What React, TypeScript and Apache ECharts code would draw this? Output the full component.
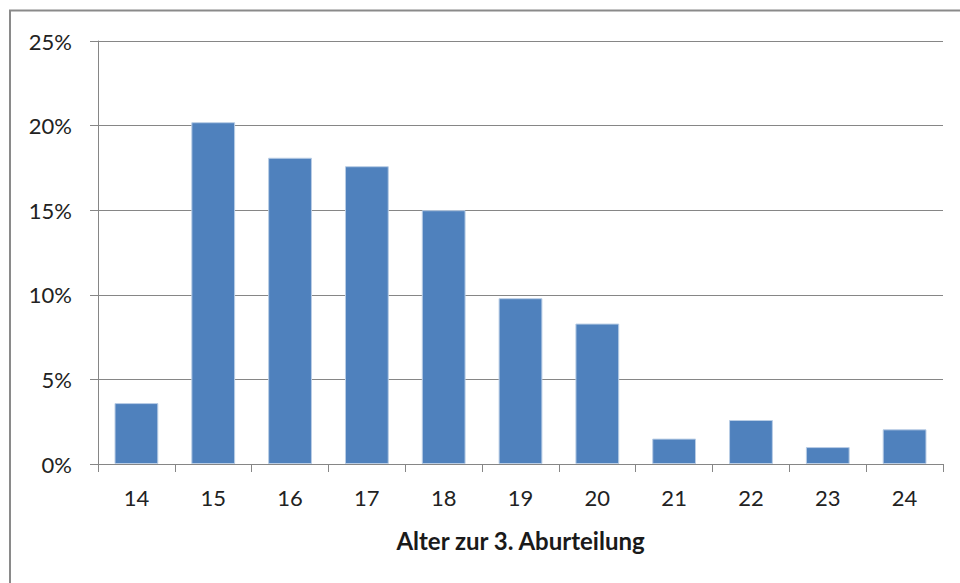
import React, { useEffect, useRef } from "react";
import * as echarts from "echarts";

const categories = ["14", "15", "16", "17", "18", "19", "20", "21", "22", "23", "24"];
const shares = [3.6, 20.2, 18.1, 17.6, 15.0, 9.8, 8.3, 1.5, 2.6, 1.0, 2.05];
const yTicks = [0, 5, 10, 15, 20, 25];
const xTitle = "Alter zur 3. Aburteilung";

export default function App() {
  const ref = useRef<HTMLDivElement>(null);
  useEffect(() => {
    if (!ref.current) return;
    const chart = echarts.init(ref.current, null, { renderer: "svg" });
    const font = "Lato, 'Open Sans', sans-serif";
    chart.setOption({
      animation: false,
      backgroundColor: "#ffffff",
      graphic: [
        {
          type: "rect",
          shape: { x: 10, y: 10.5, width: 1000, height: 1000 },
          style: { fill: "none", stroke: "#8a8a8a", lineWidth: 2 },
          silent: true,
        },
      ],
      grid: { left: 98, top: 41, right: 17, bottom: 119, containLabel: false },
      xAxis: {
        type: "category",
        data: categories,
        name: xTitle,
        nameLocation: "middle",
        nameGap: 64,
        nameTextStyle: { fontFamily: font, fontSize: 24, fontWeight: "bold", color: "#1a1a1a" },
        axisLine: { show: true, lineStyle: { color: "#868686", width: 1 } },
        axisTick: { show: true, length: 8, alignWithLabel: false, lineStyle: { color: "#868686" } },
        axisLabel: { margin: 22, fontFamily: font, fontSize: 22, color: "#222222" },
        splitLine: { show: false },
      },
      yAxis: {
        type: "value",
        min: yTicks[0],
        max: yTicks[yTicks.length - 1],
        interval: 5,
        axisLine: { show: true, lineStyle: { color: "#868686", width: 1 } },
        axisTick: { show: true, length: 8, lineStyle: { color: "#868686" } },
        axisLabel: {
          margin: 26,
          fontFamily: font,
          fontSize: 22,
          color: "#222222",
          formatter: (v: number) => `${v}%`,
        },
        splitLine: { show: true, lineStyle: { color: "#868686", width: 1 } },
      },
      series: [
        {
          type: "bar",
          data: shares,
          barWidth: "57%",
          itemStyle: { color: "#4f81bd", borderColor: "#b9cde5", borderWidth: 1 },
        },
      ],
    });
    return () => chart.dispose();
  }, []);
  return (
    <div
      ref={ref}
      style={{ position: "fixed", left: 0, top: 0, width: 960, height: 583 }}
    />
  );
}
